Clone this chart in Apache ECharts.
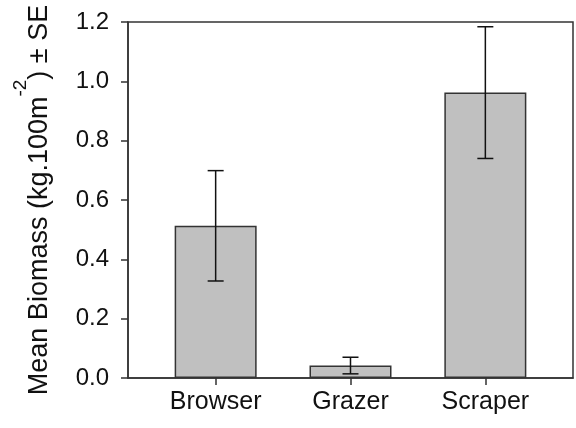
<!DOCTYPE html>
<html>
<head>
<meta charset="utf-8">
<script src="https://cdn.jsdelivr.net/npm/echarts@6/dist/echarts.min.js"></script>
<style>
html,body{margin:0;padding:0;background:#fff;}
#chart{width:576px;height:428px;}
</style>
</head>
<body>
<div id="chart"></div>
<script>
const categories = ['Browser', 'Grazer', 'Scraper'];
const means = [0.513, 0.042, 0.962];
const se = [0.186, 0.028, 0.222];
const yTicks = [0, 0.2, 0.4, 0.6, 0.8, 1.0, 1.2];

const positions = categories.map((c, i) => i + 1);
const barData = positions.map((p, i) => [p, means[i]]);
const errData = positions.map((p, i) => [p, means[i] - se[i], means[i] + se[i]]);

const FONT = "'Liberation Sans', Arial, sans-serif";
const chart = echarts.init(document.getElementById('chart'), null, {renderer: 'canvas'});
chart.setOption({
  animation: false,
  backgroundColor: '#fff',
  grid: {left: 128, right: 3, top: 22, bottom: 50, containLabel: false, outerBoundsMode: 'none',
         show: true, borderColor: '#333', borderWidth: 1.5, backgroundColor: 'transparent'},
  xAxis: {
    type: 'value', min: 0.35, max: 3.65,
    splitLine: {show: false},
    axisLine: {show: true, lineStyle: {color: '#333', width: 1.5}},
    axisTick: {show: true, customValues: positions, length: 7, lineStyle: {color: '#333', width: 1.5}},
    axisLabel: {
      customValues: positions, margin: 12, color: '#111', fontSize: 25, fontFamily: FONT,
      formatter: v => categories[Math.round(v) - 1] || ''
    }
  },
  yAxis: {
    type: 'value', min: yTicks[0], max: yTicks[yTicks.length - 1], interval: 0.2,
    splitLine: {show: false},
    axisLine: {show: true, lineStyle: {color: '#333', width: 1.5}},
    axisTick: {show: true, length: 7, lineStyle: {color: '#333', width: 1.5}},
    axisLabel: {margin: 19, color: '#111', fontSize: 24, fontFamily: FONT, formatter: v => v.toFixed(1)},
    name: '{m|Mean Biomass (kg.100m}{s|-2}{m|) ± SE}',
    nameLocation: 'middle',
    nameGap: 59,
    nameTextStyle: {
      rich: {
        m: {fontSize: 27, fontFamily: FONT, color: '#111', lineHeight: 58, verticalAlign: 'middle'},
        s: {fontSize: 19, fontFamily: FONT, color: '#111', lineHeight: 19, verticalAlign: 'top'}
      }
    }
  },
  series: [
    {
      type: 'bar', data: barData, barWidth: 82,
      itemStyle: {color: '#c0c0c0', borderColor: '#333', borderWidth: 1.5}
    },
    {
      type: 'custom', data: errData, z: 10,
      renderItem: function (params, api) {
        const x = api.value(0);
        const lo = api.coord([x, api.value(1)]);
        const hi = api.coord([x, api.value(2)]);
        const hw = 8;
        const style = {stroke: '#111', lineWidth: 1.5};
        return {
          type: 'group',
          children: [
            {type: 'line', shape: {x1: lo[0], y1: lo[1], x2: hi[0], y2: hi[1]}, style: style},
            {type: 'line', shape: {x1: hi[0] - hw, y1: hi[1], x2: hi[0] + hw, y2: hi[1]}, style: style},
            {type: 'line', shape: {x1: lo[0] - hw, y1: lo[1], x2: lo[0] + hw, y2: lo[1]}, style: style}
          ]
        };
      }
    }
  ]
});
</script>
</body>
</html>
